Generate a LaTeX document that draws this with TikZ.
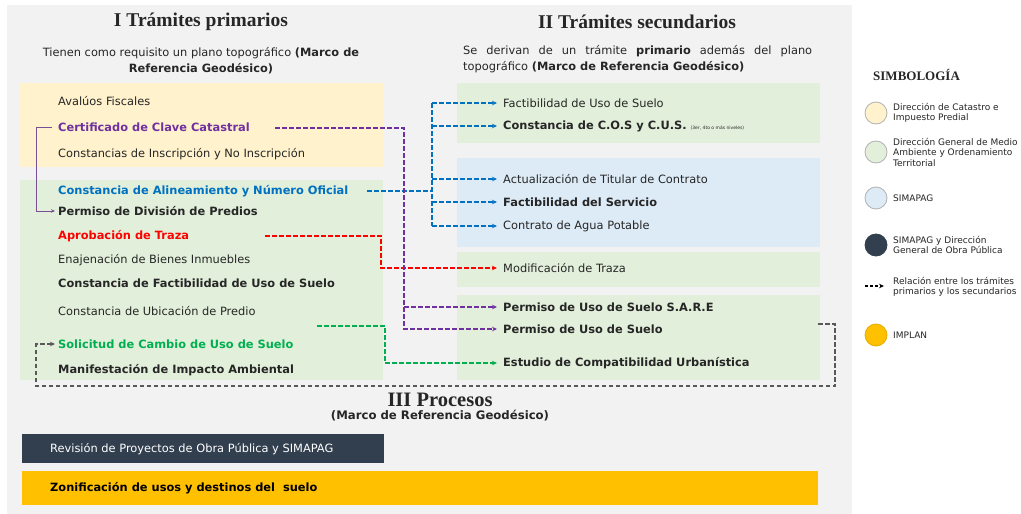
\documentclass[tikz,border=0pt]{standalone}
\usepackage{fontspec}
\setmainfont{DejaVu Sans}
\newfontfamily\serifh{Liberation Serif}
\usetikzlibrary{arrows.meta}
\definecolor{bggray}{HTML}{F2F2F2}
\definecolor{cyellow}{HTML}{FFF2CC}
\definecolor{cgreen}{HTML}{E2EFDA}
\definecolor{cblue}{HTML}{DDEBF7}
\definecolor{cdark}{HTML}{323F4F}
\definecolor{corange}{HTML}{FFC000}
\definecolor{cpurple}{HTML}{7030A0}
\definecolor{cbluel}{HTML}{0070C0}
\definecolor{cred}{HTML}{FF0000}
\definecolor{cgreenl}{HTML}{00B050}
\definecolor{cgrayl}{HTML}{595959}
\definecolor{ctext}{HTML}{262626}
\newcommand\bodyfont{\fontsize{11.4}{13}\selectfont}
\begin{document}
\begin{tikzpicture}[x=1pt,y=-1pt,
  lft/.style={anchor=west, inner sep=0pt, text=ctext, font=\bodyfont},
  lftb/.style={lft, font=\bodyfont\bfseries},
  rgt/.style={anchor=west, inner xsep=6pt, inner ysep=0pt, text=ctext, font=\bodyfont},
  rgtb/.style={rgt, font=\bodyfont\bfseries},
  head/.style={inner sep=0pt, text=ctext, font=\fontsize{19.5}{22}\selectfont\serifh\bfseries},
  leg/.style={anchor=west, inner sep=0pt, align=left, text=ctext, font=\fontsize{9}{10.5}\selectfont},
  legc/.style={circle, minimum size=22pt, inner sep=0pt, draw=gray!60, line width=0.8pt},
  conn/.style={line width=1.3pt, dash pattern=on 4.5pt off 2.5pt, -{Stealth[length=5pt,width=4.5pt]}},
  link/.style={conn, -},
]
\useasboundingbox (0,0) rectangle (1021,514);
\fill[white] (0,0) rectangle (1021,514);
\fill[bggray] (7,5) rectangle (852,514);
% boxes
\fill[cyellow] (20,83) rectangle (383,167);
\fill[cgreen] (20,180) rectangle (383,380);
\fill[cgreen] (457,83) rectangle (820,143);
\fill[cblue] (457,158) rectangle (820,247);
\fill[cgreen] (457,252) rectangle (820,287);
\fill[cgreen] (457,295) rectangle (820,380);
% headings
\node[head] (h1) at (201,22) {I Trámites primarios};
\node[head] (h2) at (637,22) {II Trámites secundarios};
\node[align=center, inner sep=0pt, text=ctext, font=\fontsize{11.4}{16}\selectfont] (s1) at (201,61)
  {Tienen como requisito un plano topográfico \textbf{(Marco de}\\\textbf{Referencia Geodésico)}};
\node[anchor=north west, text width=349pt, align=justify, inner sep=0pt, text=ctext, font=\fontsize{11.4}{16}\selectfont] (s2) at (463,45)
  {Se derivan de un trámite \textbf{primario} además del plano\linebreak topográfico \textbf{(Marco de Referencia Geodésico)}};
% left items
\node[lft] (afis) at (58,101) {Avalúos Fiscales};
\node[lftb, text=cpurple] (cert) at (58,127) {Certificado de Clave Catastral};
\node[lft] (cins) at (58,154) {Constancias de Inscripción y No Inscripción};
\node[lftb, text=cbluel] (alin) at (58,191) {Constancia de Alineamiento y Número Oficial};
\node[lftb, inner xsep=3pt] (pdiv) at (55,211) {Permiso de División de Predios};
\node[lftb, text=cred] (atra) at (58,236) {Aprobación de Traza};
\node[lft] (enaj) at (58,260) {Enajenación de Bienes Inmuebles};
\node[lftb] (cfac) at (58,283) {Constancia de Factibilidad de Uso de Suelo};
\node[lft] (cubi) at (58,311) {Constancia de Ubicación de Predio};
\node[lftb, text=cgreenl, inner xsep=3pt] (solc) at (55,344) {Solicitud de Cambio de Uso de Suelo};
\node[lftb] (mani) at (58,370) {Manifestación de Impacto Ambiental};
% right items
\node[rgt] (fus) at (497,103) {Factibilidad de Uso de Suelo};
\node[rgtb] (ccos) at (497,126) {Constancia de C.O.S y C.U.S. {\mdseries\fontsize{4.5}{5}\selectfont (3er, 4to o más niveles)}};
\node[rgt] (atit) at (497,179) {Actualización de Titular de Contrato};
\node[rgtb] (fser) at (497,202) {Factibilidad del Servicio};
\node[rgt] (cagu) at (497,226) {Contrato de Agua Potable};
\node[rgt] (mtra) at (497,268) {Modificación de Traza};
\node[rgtb] (psar) at (497,307) {Permiso de Uso de Suelo S.A.R.E};
\node[rgtb] (pusu) at (497,329) {Permiso de Uso de Suelo};
\node[rgtb] (ecom) at (497,363) {Estudio de Compatibilidad Urbanística};
% connector anchors
\coordinate (pc) at (275,128);
\coordinate (pv) at (404,0);
\coordinate (bc) at (367,191);
\coordinate (bv) at (432,0);
\coordinate (rc) at (265,236);
\coordinate (rv) at (381,0);
\coordinate (gc) at (317,326);
\coordinate (gv) at (385,0);
\coordinate (sl) at (36,0);
\coordinate (kc) at (818,324);
\coordinate (kR) at (835,386);
\coordinate (kL) at (36,386);
% solid purple
\draw[cpurple!60!gray, line width=0.7pt, -{Stealth[length=4pt,width=3.5pt]}] ([xshift=-6pt]cert.west) -| (sl |- pdiv.west) -- (pdiv.west);
% blue
\draw[link, cbluel] (bc) -- (bv |- bc);
\draw[link, cbluel] (bv |- fus.west) -- (bv |- cagu.west);
\draw[conn, cbluel] (bv |- fus.west) -- (fus.west);
\draw[conn, cbluel] (bv |- ccos.west) -- (ccos.west);
\draw[conn, cbluel] (bv |- atit.west) -- (atit.west);
\draw[conn, cbluel] (bv |- fser.west) -- (fser.west);
\draw[conn, cbluel] (bv |- cagu.west) -- (cagu.west);
% red
\draw[conn, cred] (rc) -| (rv |- mtra.west) -- (mtra.west);
% purple
\draw[conn, cpurple] (pc) -| (pv |- pusu.west) -- (pusu.west);
\draw[conn, cpurple] (pv |- psar.west) -- (psar.west);
% green
\draw[conn, cgreenl] (gc) -| (gv |- ecom.west) -- (ecom.west);
% gray loop
\draw[conn, cgrayl, line width=1.2pt] (kc) -| (kR) -- (kL) |- (solc.west);
% processes
\node[head, font=\fontsize{20.5}{22}\selectfont\serifh\bfseries] (h3) at (440,400) {III Procesos};
\node[inner sep=0pt, text=ctext, font=\fontsize{11.7}{13}\selectfont\bfseries] (s3) at (440,416) {(Marco de Referencia Geodésico)};
\fill[cdark] (22,434) rectangle (384,463);
\node[anchor=west, inner sep=0pt, text=white, font=\bodyfont] (rev) at (50,449) {Revisión de Proyectos de Obra Pública y SIMAPAG};
\fill[corange] (22,471) rectangle (818,505);
\node[anchor=west, inner sep=0pt, text=black, font=\bodyfont\bfseries] (zon) at (50,488) {Zonificación de usos y destinos del\ \ suelo};
% legend
\node[anchor=west, inner sep=0pt, text=ctext, font=\fontsize{13}{15}\selectfont\serifh\bfseries] (simb) at (873,75) {SIMBOLOGÍA};
\node[legc, fill=cyellow] (c1) at (876,113) {};
\node[legc, fill=cgreen] (c2) at (876,152) {};
\node[legc, fill=cblue] (c3) at (876,198) {};
\node[legc, fill=cdark, draw=cdark] (c4) at (876,245) {};
\node[legc, fill=corange, draw=corange!90!black] (c5) at (876,335) {};
\node[leg] (l1) at (893,113) {Dirección de Catastro e\\Impuesto Predial};
\node[leg] (l2) at (893,152) {Dirección General de Medio\\Ambiente y Ordenamiento\\Territorial};
\node[leg] (l3) at (893,198) {SIMAPAG};
\node[leg] (l4) at (893,245) {SIMAPAG y Dirección\\General de Obra Pública};
\node[leg] (l5) at (893,287) {Relación entre los trámites\\primarios y los secundarios};
\node[leg] (l6) at (893,335) {IMPLAN};
\coordinate (la) at (865,286);
\coordinate (lb) at (884,286);
\draw[black, line width=1.2pt, dash pattern=on 3pt off 2pt, -{Stealth[length=5pt,width=4.5pt]}] (la) -- (lb);
\end{tikzpicture}
\end{document}
